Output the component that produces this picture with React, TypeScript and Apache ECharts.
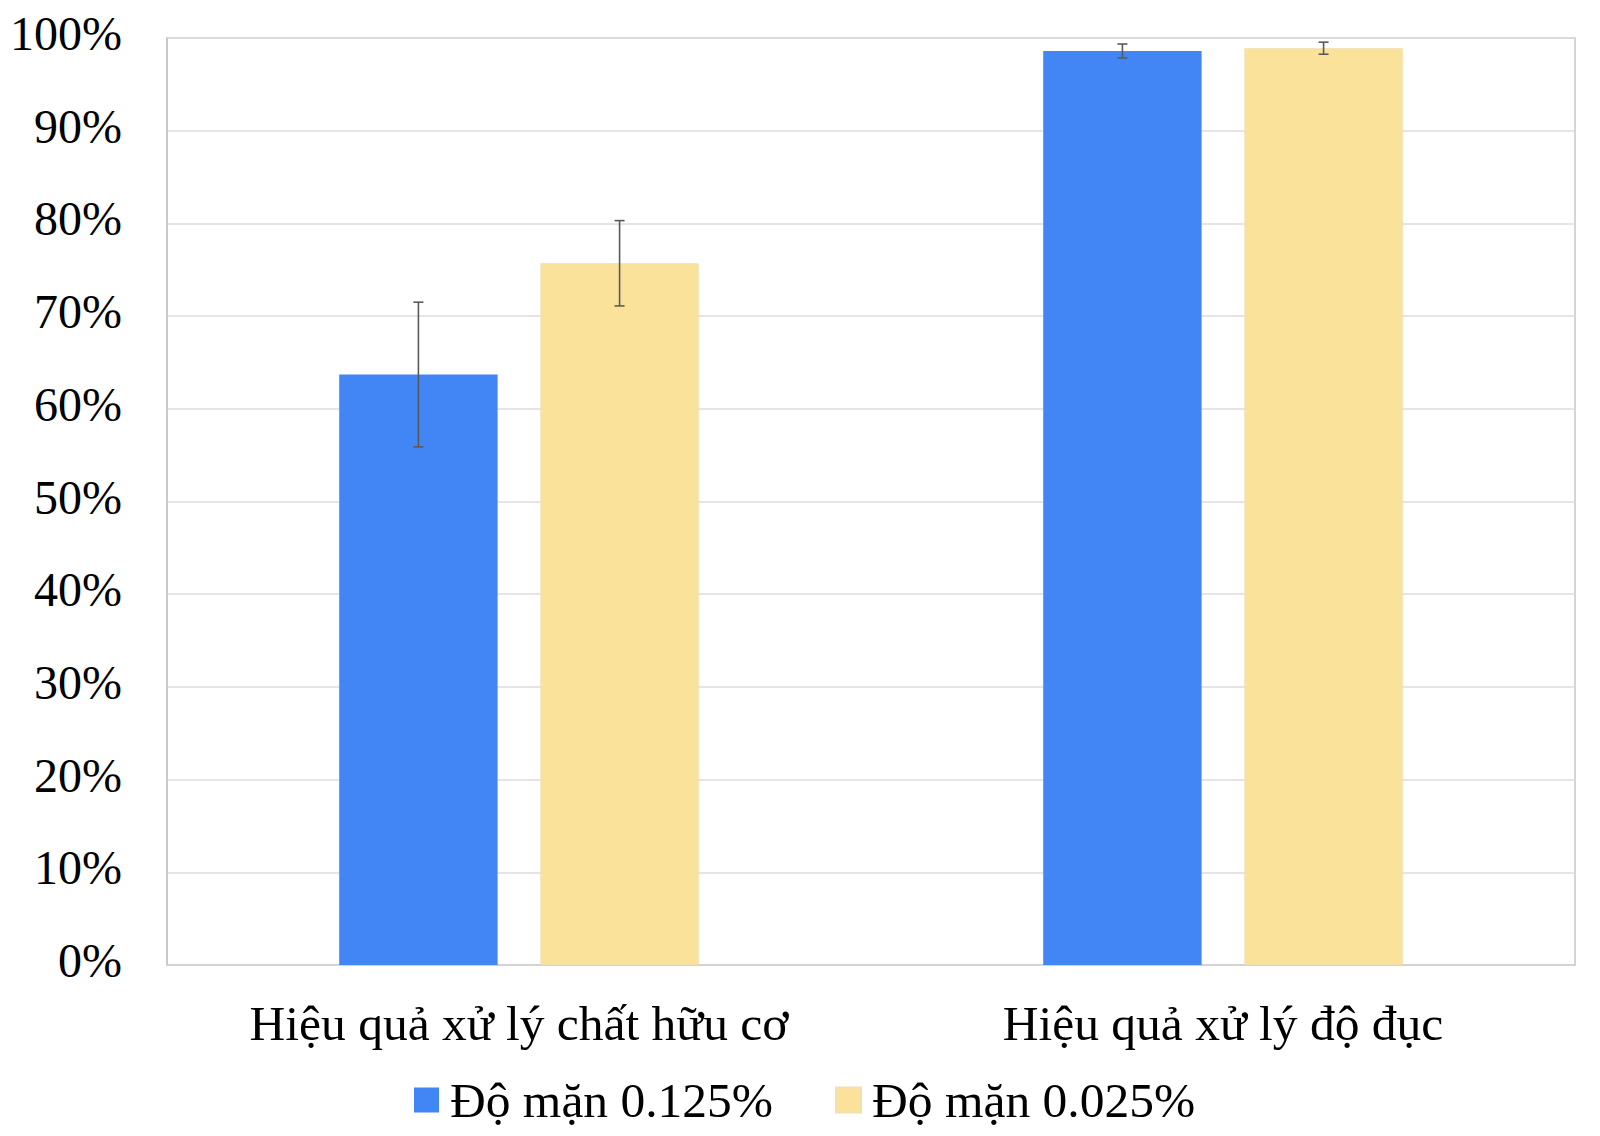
import React, { useEffect, useRef } from "react";
import * as echarts from "echarts";

const categories = ["Hiệu quả xử lý chất hữu cơ", "Hiệu quả xử lý độ đục"];
const seriesNames = ["Độ mặn 0.125%", "Độ mặn 0.025%"];
const salinity0125 = [63.7, 98.6];
const salinity0025 = [75.7, 98.9];
const err0125 = [7.8, 0.75];
const err0025 = [4.6, 0.65];
const yTicks = [0, 10, 20, 30, 40, 50, 60, 70, 80, 90, 100];

const BAR_W = 0.225;
const BAR_GAP = 0.27;

function makeErr(values: number[], errs: number[], side: number) {
  return {
    type: "custom",
    z: 5,
    silent: true,
    data: values.map((v, i) => [i, v, errs[i]]),
    encode: { x: 0, y: 1 },
    renderItem: (params: any, api: any) => {
      const idx = api.value(0);
      const mean = api.value(1);
      const e = api.value(2);
      const catW = api.size([1, 0])[0];
      const bw = catW * BAR_W;
      const off = (bw + bw * BAR_GAP) / 2;
      const c = api.coord([idx, mean]);
      const x = c[0] + side * off;
      const yHi = api.coord([idx, mean + e])[1];
      const yLo = api.coord([idx, mean - e])[1];
      const cap = 5;
      const style = { stroke: "#5a5a5a", lineWidth: 1.6 };
      return {
        type: "group",
        children: [
          { type: "line", shape: { x1: x, y1: yHi, x2: x, y2: yLo }, style },
          { type: "line", shape: { x1: x - cap, y1: yHi, x2: x + cap, y2: yHi }, style },
          { type: "line", shape: { x1: x - cap, y1: yLo, x2: x + cap, y2: yLo }, style },
        ],
      };
    },
  };
}

export default function App() {
  const ref = useRef<HTMLDivElement>(null);
  useEffect(() => {
    document.body.style.margin = "0";
    const chart = echarts.init(ref.current!, null, { renderer: "svg" });
    const font = "'Liberation Serif', 'Times New Roman', serif";
    chart.setOption({
      animation: false,
      backgroundColor: "#ffffff",
      textStyle: { fontFamily: font },
      grid: {
        left: 167,
        right: 25,
        top: 38,
        bottom: 171,
        show: true,
        borderColor: "#c6c6c6",
        borderWidth: 1.5,
      },
      legend: {
        data: seriesNames,
        bottom: 6,
        left: 409,
        itemWidth: 25,
        itemHeight: 25,
        itemGap: 62,
        icon: "rect",
        textStyle: { fontFamily: font, fontSize: 49.5, color: "#000", padding: [0, 0, 0, 6] },
      },
      xAxis: {
        type: "category",
        data: categories,
        axisLine: { show: true, lineStyle: { color: "#d0d0d0", width: 1.5 } },
        axisTick: { show: false },
        axisLabel: { fontFamily: font, fontSize: 49.5, color: "#000", margin: 33 },
      },
      yAxis: {
        type: "value",
        min: yTicks[0],
        max: yTicks[yTicks.length - 1],
        interval: 10,
        axisLine: { show: true, lineStyle: { color: "#c6c6c6", width: 1.5 } },
        axisTick: { show: false },
        splitLine: { lineStyle: { color: "#dcdcdc", width: 1.5 } },
        axisLabel: {
          color: "#000",
          margin: 45,
          formatter: "{a|{value}%}",
          rich: {
            a: { fontFamily: font, fontSize: 48, color: "#000", padding: [0, 0, 9, 0] },
          },
        },
      },
      series: [
        {
          name: seriesNames[0],
          type: "bar",
          data: salinity0125,
          barWidth: BAR_W * 100 + "%",
          barGap: BAR_GAP * 100 + "%",
          itemStyle: { color: "#4285F4" },
        },
        {
          name: seriesNames[1],
          type: "bar",
          data: salinity0025,
          barWidth: BAR_W * 100 + "%",
          barGap: BAR_GAP * 100 + "%",
          itemStyle: { color: "#FAE29A", borderColor: "#f3dfae", borderWidth: 1 },
        },
        makeErr(salinity0125, err0125, -1),
        makeErr(salinity0025, err0025, 1),
      ],
    });
    return () => chart.dispose();
  }, []);
  return <div ref={ref} style={{ width: 1600, height: 1136 }} />;
}
